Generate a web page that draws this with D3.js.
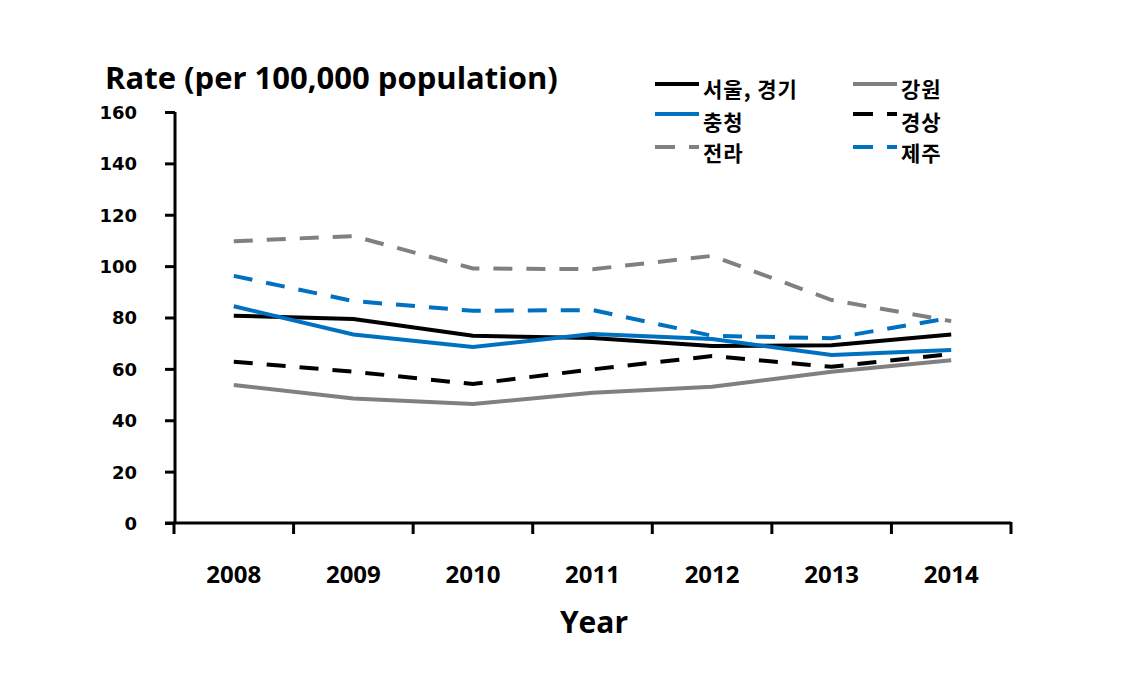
<!DOCTYPE html>
<html><head><meta charset="utf-8">
<script src="https://cdn.jsdelivr.net/npm/d3@7"></script>
<style>body{margin:0;background:#fff}svg{display:block}text{font-family:"Noto Sans CJK KR","Open Sans",sans-serif;font-weight:bold;fill:#000}</style>
</head><body><svg id="c" width="1143" height="684"></svg>
<script>
const years = ["2008","2009","2010","2011","2012","2013","2014"];
const yTicks = [0,20,40,60,80,100,120,140,160];
const seoulGyeonggi = [80.7,79.4,72.9,72.0,68.9,69.2,73.4];
const gangwon = [53.7,48.5,46.3,50.7,53.0,58.9,63.4];
const chungcheong = [84.4,73.4,68.5,73.6,71.6,65.4,67.3];
const gyeongsang = [62.8,58.9,54.1,59.8,65.0,60.8,65.8];
const jeolla = [109.7,111.7,99.1,98.8,104.0,86.8,78.6];
const jeju = [96.2,86.4,82.6,82.9,72.9,71.9,79.9];
const seriesNames = ["서울, 경기","강원","충청","경상","전라","제주"];
const seriesValues = [seoulGyeonggi,gangwon,chungcheong,gyeongsang,jeolla,jeju];
const seriesColors = ["#000000","#808080","#0070C0","#000000","#808080","#0070C0"];
const seriesDashed = [false,false,false,true,true,true];

const svg = d3.select("#c");
const x = d3.scaleBand().domain(years).range([174,1011]);
const y = d3.scaleLinear().domain([0,160]).range([523,112]);

// y axis
const ya = svg.append("g").attr("transform","translate(175,0)")
  .call(d3.axisLeft(y).tickValues(yTicks).tickSize(10).tickPadding(28));
ya.select(".domain").attr("stroke","#000").attr("stroke-width",3).attr("d","M0,112V524");
ya.selectAll(".tick line").attr("stroke","#000").attr("stroke-width",3);
ya.selectAll(".tick text").style("font-size","18px").attr("dy","0.36em")
  .style("font-family","'DejaVu Sans',sans-serif");

// x axis
const xa = svg.append("g").attr("transform","translate(0,523)")
  .call(d3.axisBottom(x).tickSize(0).tickPadding(43));
xa.select(".domain").attr("stroke","#000").attr("stroke-width",3).attr("d","M165,0H1011");
xa.selectAll(".tick text").style("font-size","24px").style("font-family","'Open Sans',sans-serif");
const bounds = years.map(d=>x(d)).concat([x(years[years.length-1])+x.bandwidth()]);
svg.append("g").selectAll("line").data(bounds).join("line")
  .attr("x1",d=>d).attr("x2",d=>d).attr("y1",522).attr("y2",534)
  .attr("stroke","#000").attr("stroke-width",3);

// lines
const line = d3.line().x((d,i)=>x(years[i])+x.bandwidth()/2).y(d=>y(d));
seriesValues.forEach((vals,k)=>{
  svg.append("path").datum(vals).attr("d",line).attr("fill","none")
    .attr("stroke",seriesColors[k]).attr("stroke-width",4)
    .attr("stroke-dasharray",seriesDashed[k]?"19,14":null);
});

// titles
svg.append("text").attr("x",105).attr("y",89).style("font-size","31px")
  .style("font-family","'Open Sans',sans-serif").text("Rate (per 100,000 population)");
svg.append("text").attr("x",594).attr("y",633).attr("text-anchor","middle").style("font-size","30px")
  .style("font-family","'Open Sans',sans-serif").text("Year");

// legend
const legOrder = [0,1,2,3,4,5];
const lg = svg.append("g");
legOrder.forEach((k,i)=>{
  const col = i%2, row = Math.floor(i/2);
  const lx = col===0?655:853, ly = [84,114,147][row], ty = [89,122,153][row];
  lg.append("line").attr("x1",lx).attr("x2",lx+44).attr("y1",ly).attr("y2",ly)
    .attr("stroke",seriesColors[k]).attr("stroke-width",4)
    .attr("stroke-dasharray",seriesDashed[k]?"20,14":null);
  lg.append("text").attr("x",lx+48).attr("y",ty+8).style("font-size","21px")
    .style("letter-spacing","1px").text(seriesNames[k]);
});
</script></body></html>
